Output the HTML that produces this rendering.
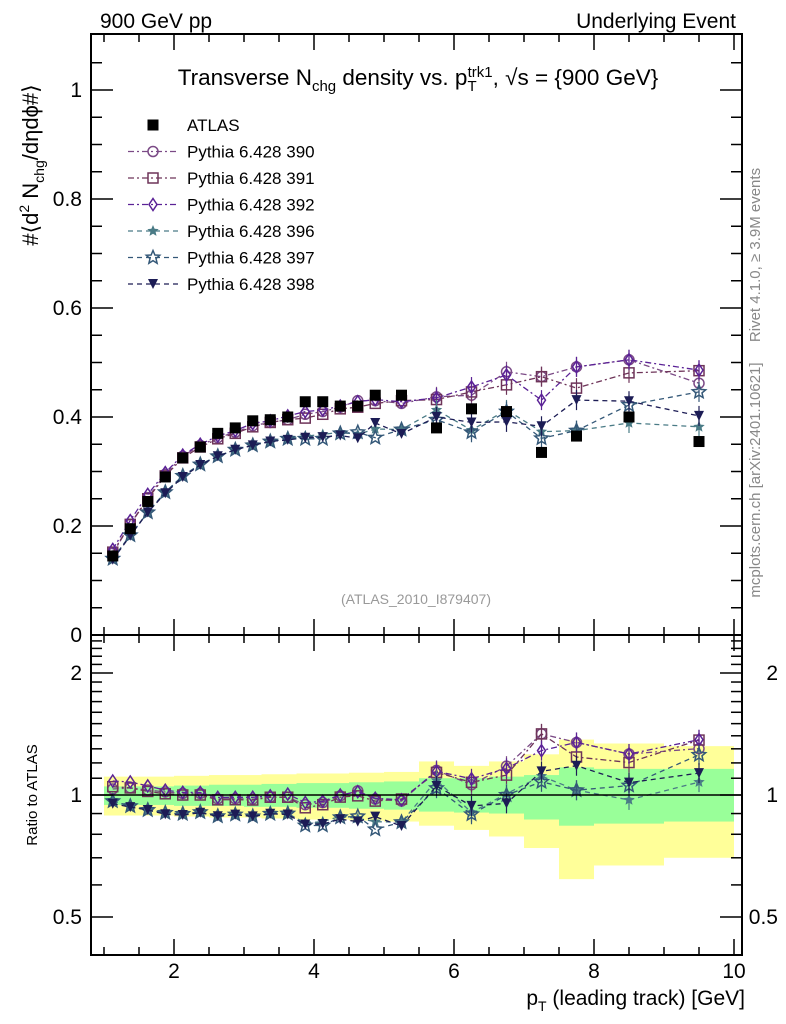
<!DOCTYPE html>
<html><head><meta charset="utf-8"><style>
html,body{margin:0;padding:0;background:#fff;}
svg{display:block;font-family:"Liberation Sans",sans-serif;}
</style></head><body>
<svg id="chart" width="786" height="1024" viewBox="0 0 786 1024">
<rect x="0" y="0" width="786" height="1024" fill="#fff"/>
<g id="bands"></g>
<g id="ratioMarks"></g>
<g id="mainMarks"></g>
<g id="axes" stroke="#000" fill="none" stroke-width="2"></g>
<text x="100" y="28" font-size="21">900 GeV pp</text>
<text x="736" y="28" font-size="21" text-anchor="end">Underlying Event</text>
<text x="418" y="85" font-size="22.5" text-anchor="middle">Transverse N<tspan font-size="15" dy="6">chg</tspan><tspan dy="-6"> density vs. p</tspan><tspan font-size="15" dy="6">T</tspan><tspan font-size="15" dy="-14" dx="-9">trk1</tspan><tspan dy="8">, √s = {900 GeV}</tspan></text>
<text x="416" y="604" font-size="14" fill="#999" text-anchor="middle">(ATLAS_2010_I879407)</text>
<text transform="translate(760,255) rotate(-90)" font-size="15" fill="#888" text-anchor="middle">Rivet 4.1.0, ≥ 3.9M events</text>
<text transform="translate(760,480) rotate(-90)" font-size="15" fill="#888" text-anchor="middle">mcplots.cern.ch [arXiv:2401.10621]</text>
<text transform="translate(38,165) rotate(-90)" font-size="22" text-anchor="middle">#⟨d<tspan font-size="14" dy="-9">2</tspan><tspan dy="9"> N</tspan><tspan font-size="14" dy="6">chg</tspan><tspan dy="-6">/dηdϕ#⟩</tspan></text>
<text transform="translate(37,795) rotate(-90)" font-size="15" text-anchor="middle">Ratio to ATLAS</text>
<text x="745" y="1005" font-size="21" text-anchor="end">p<tspan font-size="14" dy="6">T</tspan><tspan dy="-6"> (leading track) [GeV]</tspan></text>
<g id="legend"></g>
</svg>
<script>
const pT = [1.125,1.375,1.625,1.875,2.125,2.375,2.625,2.875,3.125,3.375,3.625,3.875,4.125,4.375,4.625,4.875,5.25,5.75,6.25,6.75,7.25,7.75,8.5,9.5];
const binLo = [1,1.25,1.5,1.75,2,2.25,2.5,2.75,3,3.25,3.5,3.75,4,4.25,4.5,4.75,5,5.5,6,6.5,7,7.5,8,9];
const binHi = [1.25,1.5,1.75,2,2.25,2.5,2.75,3,3.25,3.5,3.75,4,4.25,4.5,4.75,5,5.5,6,6.5,7,7.5,8,9,10];
const atlas = [0.145,0.195,0.245,0.29,0.325,0.345,0.37,0.38,0.393,0.395,0.40,0.428,0.428,0.42,0.42,0.44,0.44,0.38,0.415,0.41,0.335,0.365,0.40,0.355];
const p390 = [0.15,0.203,0.252,0.295,0.328,0.348,0.362,0.372,0.384,0.39,0.395,0.405,0.41,0.418,0.43,0.43,0.425,0.437,0.44,0.483,0.474,0.492,0.505,0.462];
const p391 = [0.152,0.203,0.25,0.292,0.325,0.345,0.36,0.37,0.382,0.39,0.395,0.398,0.405,0.415,0.418,0.425,0.43,0.432,0.446,0.459,0.474,0.453,0.481,0.485];
const p392 = [0.157,0.21,0.258,0.298,0.33,0.35,0.365,0.375,0.388,0.393,0.402,0.41,0.413,0.42,0.428,0.432,0.428,0.435,0.455,0.477,0.431,0.492,0.505,0.486];
const p396 = [0.14,0.183,0.225,0.262,0.292,0.313,0.328,0.34,0.348,0.355,0.36,0.365,0.368,0.372,0.368,0.378,0.377,0.413,0.376,0.413,0.373,0.375,0.389,0.382];
const p397 = [0.14,0.183,0.225,0.262,0.292,0.313,0.328,0.34,0.348,0.355,0.36,0.36,0.36,0.37,0.372,0.362,0.377,0.395,0.372,0.41,0.361,0.375,0.422,0.446];
const p398 = [0.138,0.182,0.225,0.26,0.29,0.312,0.328,0.34,0.348,0.355,0.358,0.362,0.363,0.366,0.361,0.389,0.369,0.40,0.39,0.391,0.383,0.431,0.429,0.402];
const yelLo = [0.89,0.89,0.89,0.89,0.885,0.885,0.88,0.88,0.88,0.875,0.875,0.87,0.87,0.87,0.865,0.865,0.86,0.84,0.82,0.79,0.74,0.62,0.67,0.70];
const yelHi = [1.11,1.11,1.11,1.11,1.115,1.115,1.12,1.12,1.12,1.125,1.125,1.13,1.13,1.13,1.135,1.135,1.14,1.21,1.18,1.21,1.26,1.37,1.34,1.32];
const grnLo = [0.945,0.945,0.945,0.945,0.94,0.94,0.94,0.94,0.935,0.935,0.935,0.93,0.93,0.93,0.925,0.925,0.92,0.91,0.905,0.90,0.87,0.84,0.85,0.86];
const grnHi = [1.05,1.05,1.05,1.05,1.055,1.055,1.06,1.06,1.06,1.065,1.065,1.07,1.07,1.07,1.075,1.075,1.08,1.10,1.10,1.11,1.12,1.17,1.16,1.16];
const xTicksMajor = [2,4,6,8,10];
const yTicksMain = [0,0.2,0.4,0.6,0.8,1];
const yTicksRatio = [0.5,1,2];

const NS="http://www.w3.org/2000/svg";
const L=91,R=742,T=34,MB=635,B=955;
const X=v=>34+70*v;
const Y=v=>635-545*v;
const YR=v=>795-122*Math.log2(v);
function mk(tag,attrs,parent){const e=document.createElementNS(NS,tag);for(const k in attrs)e.setAttribute(k,attrs[k]);parent.appendChild(e);return e;}

const bands=document.getElementById('bands');
for(let i=0;i<binLo.length;i++){
  const y=mk('rect',{x:X(binLo[i]),y:YR(yelHi[i]),width:X(binHi[i])-X(binLo[i]),height:YR(yelLo[i])-YR(yelHi[i]),fill:'#ffff99'},bands);
  
  
}
for(let i=0;i<binLo.length;i++){
  const g=mk('rect',{x:X(binLo[i]),y:YR(grnHi[i]),width:X(binHi[i])-X(binLo[i]),height:YR(grnLo[i])-YR(grnHi[i]),fill:'#99ff99'},bands);
  
  
}
const ax=document.getElementById('axes');
mk('line',{x1:L,y1:795,x2:R,y2:795,'stroke-width':1.5},ax);

const series=[
 {name:'390',vals:p390,color:'#7b4a86',dash:'6,3,2,3',marker:'circle'},
 {name:'391',vals:p391,color:'#6e3459',dash:'6,3,2,3',marker:'square'},
 {name:'392',vals:p392,color:'#5b2296',dash:'6,3,2,3',marker:'diamond'},
 {name:'396',vals:p396,color:'#4a7b86',dash:'5,4',marker:'starfill'},
 {name:'397',vals:p397,color:'#345878',dash:'5,4',marker:'staropen'},
 {name:'398',vals:p398,color:'#1c1c55',dash:'5,4',marker:'tri'}
];
function star(cx,cy,r){let p=[];for(let k=0;k<10;k++){const a=-Math.PI/2+k*Math.PI/5;const rr=k%2?r*0.45:r;p.push((cx+rr*Math.cos(a)).toFixed(1)+','+(cy+rr*Math.sin(a)).toFixed(1));}return p.join(' ');}
function marker(type,cx,cy,color,parent,nm){
  let e;
  if(type==='circle')e=mk('circle',{cx,cy,r:5,fill:'none',stroke:color,'stroke-width':1.5},parent);
  else if(type==='square')e=mk('rect',{x:cx-5,y:cy-5,width:10,height:10,fill:'none',stroke:color,'stroke-width':1.5},parent);
  else if(type==='diamond')e=mk('polygon',{points:`${cx},${cy-6} ${cx+4},${cy} ${cx},${cy+6} ${cx-4},${cy}`,fill:'none',stroke:color,'stroke-width':1.5},parent);
  else if(type==='starfill')e=mk('polygon',{points:star(cx,cy,6),fill:color},parent);
  else if(type==='staropen')e=mk('polygon',{points:star(cx,cy,7),fill:'none',stroke:color,'stroke-width':1.5},parent);
  else if(type==='tri')e=mk('polygon',{points:`${cx-5},${cy-5} ${cx+5},${cy-5} ${cx},${cy+5}`,fill:color},parent);
  else e=mk('rect',{x:cx-5.5,y:cy-5.5,width:11,height:11,fill:'#000'},parent);
  
  
  return e;
}
const mm=document.getElementById('mainMarks'), rm=document.getElementById('ratioMarks');
series.forEach(s=>{
  const pm=s.vals.map((v,i)=>X(pT[i])+','+Y(v).toFixed(1)).join(' ');
  const l1=mk('polyline',{points:pm,fill:'none',stroke:s.color,'stroke-width':1.3,'stroke-dasharray':s.dash},mm);
  
  
  const rp=s.vals.map((v,i)=>X(pT[i])+','+YR(v/atlas[i]).toFixed(1)).join(' ');
  const l2=mk('polyline',{points:rp,fill:'none',stroke:s.color,'stroke-width':1.3,'stroke-dasharray':s.dash},rm);
  
  
  s.vals.forEach((v,i)=>{
    if(pT[i]>5.5){
      mk('line',{x1:X(pT[i]),y1:Y(v)-10,x2:X(pT[i]),y2:Y(v)+10,stroke:s.color,'stroke-width':1.2},mm);
      mk('line',{x1:X(pT[i]),y1:YR(v/atlas[i])-10,x2:X(pT[i]),y2:YR(v/atlas[i])+10,stroke:s.color,'stroke-width':1.2},rm);
    }
    marker(s.marker,X(pT[i]),Y(v),s.color,mm,'point-pythia-'+s.name);
    marker(s.marker,X(pT[i]),YR(v/atlas[i]),s.color,rm,'ratio-point-pythia-'+s.name);
  });
});
atlas.forEach((v,i)=>marker('sq',X(pT[i]),Y(v),'#000',mm,'point-atlas'));

mk('rect',{x:L,y:T,width:R-L,height:MB-T},ax);
mk('rect',{x:L,y:MB,width:R-L,height:B-MB},ax);
for(let v=1;v<=10.01;v+=0.5){
  const maj=Math.abs(v-Math.round(v/2)*2)<1e-6;
  const len=maj?16:8;
  [T,MB].forEach(y0=>mk('line',{x1:X(v),y1:y0,x2:X(v),y2:y0+len,'stroke-width':1.5},ax));
  [MB,B].forEach(y0=>mk('line',{x1:X(v),y1:y0,x2:X(v),y2:y0-len,'stroke-width':1.5},ax));
}
for(let v=0;v<=1.1;v+=0.05){
  const maj=Math.abs(v*5-Math.round(v*5))<1e-6;
  const len=maj?22:11;
  mk('line',{x1:L,y1:Y(v),x2:L+len,y2:Y(v),'stroke-width':1.5},ax);
  mk('line',{x1:R,y1:Y(v),x2:R-len,y2:Y(v),'stroke-width':1.5},ax);
}
for(let v=0.5;v<=2.45;v+=0.1){
  const maj=yTicksRatio.some(t=>Math.abs(t-v)<1e-6);
  const len=maj?22:11;
  mk('line',{x1:L,y1:YR(v),x2:L+len,y2:YR(v),'stroke-width':1.5},ax);
  mk('line',{x1:R,y1:YR(v),x2:R-len,y2:YR(v),'stroke-width':1.5},ax);
}
const svg=document.getElementById('chart');
xTicksMajor.forEach(v=>{
  const t=mk('text',{x:X(v),y:978,'font-size':21,'text-anchor':'middle'},svg);t.textContent=v;
  
  
});
yTicksMain.forEach(v=>{
  const t=mk('text',{x:82,y:Y(v)+7,'font-size':21,'text-anchor':'end'},svg);t.textContent=v;
  
  
});
yTicksRatio.forEach(v=>{
  [82,778].forEach(x=>{
    const t=mk('text',{x,y:YR(v)+7,'font-size':21,'text-anchor':'end'},svg);t.textContent=v;
    
    
  });
});
const lg=document.getElementById('legend');
const le=[{name:'ATLAS',marker:'sq',color:'#000'}].concat(series.map(s=>({name:'Pythia 6.428 '+s.name,marker:s.marker,color:s.color,dash:s.dash})));
le.forEach((e,i)=>{
  const y=125+i*26.5;
  const g=mk('g',{},lg);
  
  
  if(e.dash){mk('line',{x1:128,y1:y,x2:178,y2:y,stroke:e.color,'stroke-width':1.2,'stroke-dasharray':e.dash},g);}
  marker(e.marker,153,y,e.color,g,'legend-marker');
  const t=mk('text',{x:187,y:y+6,'font-size':17},g);t.textContent=e.name;
});
</script>
</body></html>
